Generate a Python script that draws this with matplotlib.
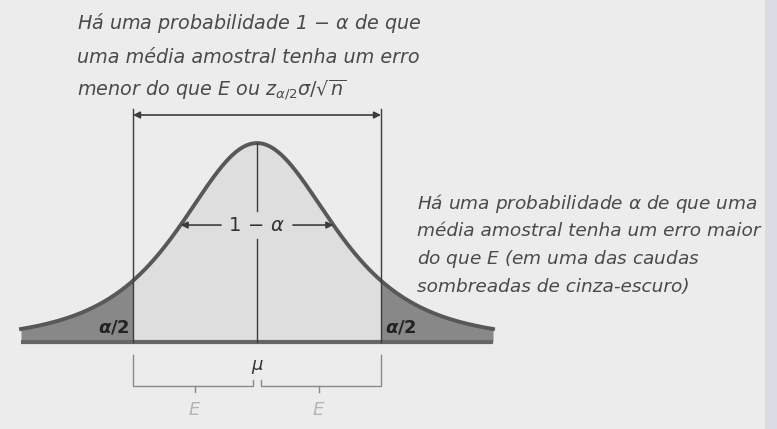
import matplotlib.pyplot as plt
import numpy as np

# Curva da distribuicao amostral com a margem de erro E
mu = 0.0
z_crit = 1.55          # limite -E / +E (em unidades de sigma/sqrt(n))
z_tail = 2.95          # extensao desenhada das caudas
tail_label = r"$\boldsymbol{\alpha/2}$"
center_label = r"$1\,-\,\alpha$"
mu_label = r"$\mu$"
err_label = r"$\mathit{E}$"

top_text = [r"Há uma probabilidade 1 $-$ $\alpha$ de que",
            "uma média amostral tenha um erro",
            r"menor do que $\mathit{E}$ ou $z_{\alpha/2}\sigma/\sqrt{n}$"]
side_text = [r"Há uma probabilidade $\alpha$ de que uma",
             "média amostral tenha um erro maior",
             r"do que $\mathit{E}$ (em uma das caudas",
             "sombreadas de cinza-escuro)"]


def density(z):
    # curva em sino normalizada (pico = 1)
    return (1 + z**2 / 3.0) ** -2


plt.rcParams['mathtext.fontset'] = 'dejavusans'
bg = '#ececec'
fig = plt.figure(figsize=(7.77, 4.29), dpi=100, facecolor=bg)
ax = fig.add_axes([0, 0, 1, 1])
ax.set_facecolor(bg)
ax.set_xlim(-3.2125, 6.5)
ax.set_ylim(-0.437, 1.719)
ax.axis('off')

z = np.linspace(-z_tail, z_tail, 600)
y = density(z)
mid = np.abs(z) <= z_crit
left = z <= -z_crit + 0.001
right = z >= z_crit - 0.001
ax.fill_between(z[mid], 0, y[mid], color='#dedede', lw=0)
ax.fill_between(z[left], 0, y[left], color='#888888', lw=0)
ax.fill_between(z[right], 0, y[right], color='#888888', lw=0)
ax.plot([-z_tail, z_tail], [0, 0], color='#666666', lw=3, solid_capstyle='butt')
ax.plot(z, y, color='#585858', lw=2.8)

line_c = '#3c3c3c'
y_top = 1.141
# limites verticais -E e +E
for s in (-1, 1):
    ax.plot([mu + s * z_crit] * 2, [0, y_top + 0.03], color=line_c, lw=1)
ax.annotate('', xy=(mu - z_crit, y_top), xytext=(mu + z_crit, y_top),
            arrowprops=dict(arrowstyle='<|-|>', color=line_c, lw=1.2,
                            mutation_scale=10, shrinkA=0, shrinkB=0))

# linha central em mu, interrompida pelo rotulo 1 - alpha
y_lab = 0.588
ax.plot([mu, mu], [0, y_lab - 0.07], color=line_c, lw=1)
ax.plot([mu, mu], [y_lab + 0.07, density(mu)], color=line_c, lw=1)
ax.text(mu, y_lab, center_label, ha='center', va='center', fontsize=14,
        color='#333333')
z_half = np.sqrt(3 * (1 / np.sqrt(y_lab) - 1))
for s in (-1, 1):
    ax.annotate('', xy=(mu + s * z_half, y_lab), xytext=(mu + s * 0.45, y_lab),
                arrowprops=dict(arrowstyle='-|>', color=line_c, lw=1.2,
                                mutation_scale=10, shrinkA=0, shrinkB=0))

# rotulos das caudas
ax.text(mu - z_crit - 0.05, 0.075, tail_label, ha='right', va='center',
        fontsize=13, color='#222222')
ax.text(mu + z_crit + 0.05, 0.075, tail_label, ha='left', va='center',
        fontsize=13, color='#222222')
ax.text(mu, -0.126, mu_label, ha='center', va='center', fontsize=13,
        color='#333333')

# chaves de E abaixo do eixo
br_c = '#8a8a8a'
y_b0, y_b1 = -0.065, -0.221
for s in (-1, 1):
    xo = mu + s * z_crit
    xi = mu + s * 0.05
    ax.plot([xo, xo, xi, xi], [y_b0, y_b1, y_b1, y_b1 + 0.03], color=br_c, lw=1)
    xm = mu + s * z_crit / 2
    ax.plot([xm, xm], [y_b1, y_b1 - 0.03], color=br_c, lw=1)
    ax.text(xm, -0.342, err_label, ha='center', va='center', fontsize=13,
            color='#b4b4b4')

# textos explicativos
for i, line in enumerate(top_text):
    ax.text(-2.25, [1.603, 1.432, 1.266][i], line, ha='left', va='center',
            fontsize=13.8, style='italic', color='#4a4a4a')
for i, line in enumerate(side_text):
    ax.text(2.0, [0.698, 0.558, 0.417, 0.276][i], line, ha='left', va='center',
            fontsize=13.3, style='italic', color='#4a4a4a')

# borda da pagina digitalizada
ax.axvspan(6.35, 6.5, color='#d9dce2', lw=0)

fig.savefig('out.png', dpi=100, facecolor=bg)
